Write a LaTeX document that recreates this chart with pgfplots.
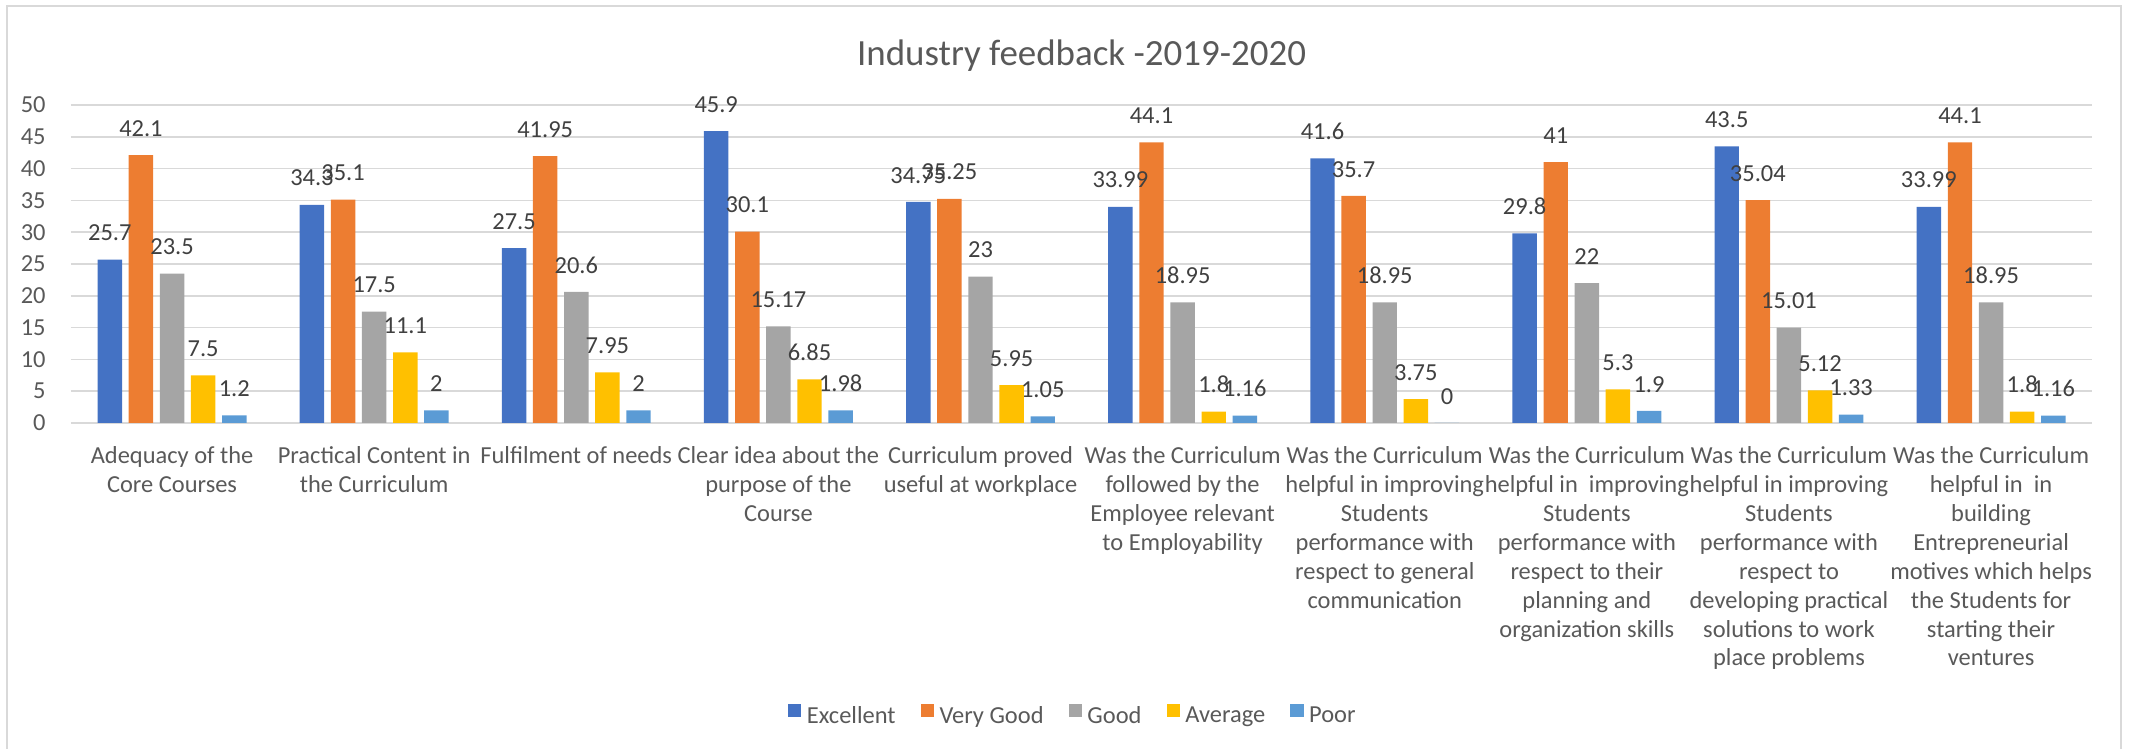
\documentclass[border=0pt]{standalone}
\usepackage{fontspec}
\setmainfont{Carlito}
\usepackage{pgfplots}
\usepackage{pgfplotstable}
\pgfplotsset{compat=1.18}
\definecolor{cEx}{HTML}{4472C4}
\definecolor{cVg}{HTML}{ED7D31}
\definecolor{cGd}{HTML}{A5A5A5}
\definecolor{cAv}{HTML}{FFC000}
\definecolor{cPr}{HTML}{5B9BD5}
\definecolor{gridc}{HTML}{D9D9D9}
\definecolor{txt}{HTML}{595959}
\definecolor{lbl}{HTML}{404040}
\pgfplotstableread{
x ex vg gd av pr
0 25.7 42.1 23.5 7.5 1.2
1 34.3 35.1 17.5 11.1 2
2 27.5 41.95 20.6 7.95 2
3 45.9 30.1 15.17 6.85 1.98
4 34.75 35.25 23 5.95 1.05
5 33.99 44.1 18.95 1.8 1.16
6 41.6 35.7 18.95 3.75 0
7 29.8 41 22 5.3 1.9
8 43.5 35.04 15.01 5.12 1.33
9 33.99 44.1 18.95 1.8 1.16
}\datatable
\begin{document}
\begin{tikzpicture}
\useasboundingbox (0,0) rectangle (767.52pt,269.64pt);
\draw[gridc, line width=0.8pt] (2.5pt,-10pt) -- (2.5pt,267.5pt) -- (763.6pt,267.5pt) -- (763.6pt,-10pt);
\begin{axis}[
  at={(25.56pt,117.36pt)}, anchor=south west,
  scale only axis, width=727.6pt, height=114.5pt,
  ybar=2.4pt, bar width=8.8pt,
  xmin=-0.5, xmax=9.5, ymin=0, ymax=50,
  enlargelimits=false, clip=false,
  ytick={0,5,...,50},
  xtick={0,...,9},
  xticklabels={
    {Adequacy of the\\Core Courses},
    {Practical Content in\\the Curriculum},
    {Fulfilment of needs},
    {Clear idea about the\\purpose of the\\Course},
    {Curriculum proved\\useful at workplace},
    {Was the Curriculum\\followed by the\\Employee relevant\\to Employability},
    {Was the Curriculum\\helpful in improving\\Students\\performance with\\respect to general\\communication},
    {Was the Curriculum\\helpful in \ improving\\Students\\performance with\\respect to their\\planning and\\organization skills},
    {Was the Curriculum\\helpful in improving\\Students\\performance with\\respect to\\developing practical\\solutions to work\\place problems},
    {Was the Curriculum\\helpful in \ in\\building\\Entrepreneurial\\motives which helps\\the Students for\\starting their\\ventures}
  },
  xticklabel style={align=center, font=\fontsize{8.8}{10.4}\selectfont, text=txt, yshift=-5pt},
  yticklabel style={font=\fontsize{8.8}{10}\selectfont, text=txt, xshift=-5.6pt},
  major tick length=0pt,
  axis line style={draw=none},
  ymajorgrids, grid style={gridc, line width=0.6pt},
  /pgf/number format/assume math mode=true,
  nodes near coords={\pgfmathprintnumber[fixed,precision=2]{\pgfplotspointmeta}},
  every node near coord/.append style={font=\fontsize{8.8}{10}\selectfont, text=lbl, yshift=3.2pt},
  title={Industry feedback -2019-2020},
  title style={at={(0.5,1.072)}, anchor=base, font=\fontsize{13.3}{15}\selectfont, text=txt},
  legend columns=5,
  legend style={at={(0.5,-0.925)}, anchor=center, xshift=-2.5pt, draw=none, fill=none,
    font=\fontsize{8.8}{10}\selectfont, text=txt,
    /tikz/every even column/.append style={column sep=7pt}},
  legend image code/.code={\fill[#1] (0pt,0pt) rectangle (4.8pt,4.8pt);},
]
\addplot[fill=cEx, draw=none] table[x=x,y=ex]{\datatable};
\addplot[fill=cVg, draw=none] table[x=x,y=vg]{\datatable};
\addplot[fill=cGd, draw=none] table[x=x,y=gd]{\datatable};
\addplot[fill=cAv, draw=none] table[x=x,y=av]{\datatable};
\addplot[fill=cPr, draw=none] table[x=x,y=pr]{\datatable};
\legend{Excellent, Very Good, Good, Average, Poor}
\end{axis}
\end{tikzpicture}
\end{document}
